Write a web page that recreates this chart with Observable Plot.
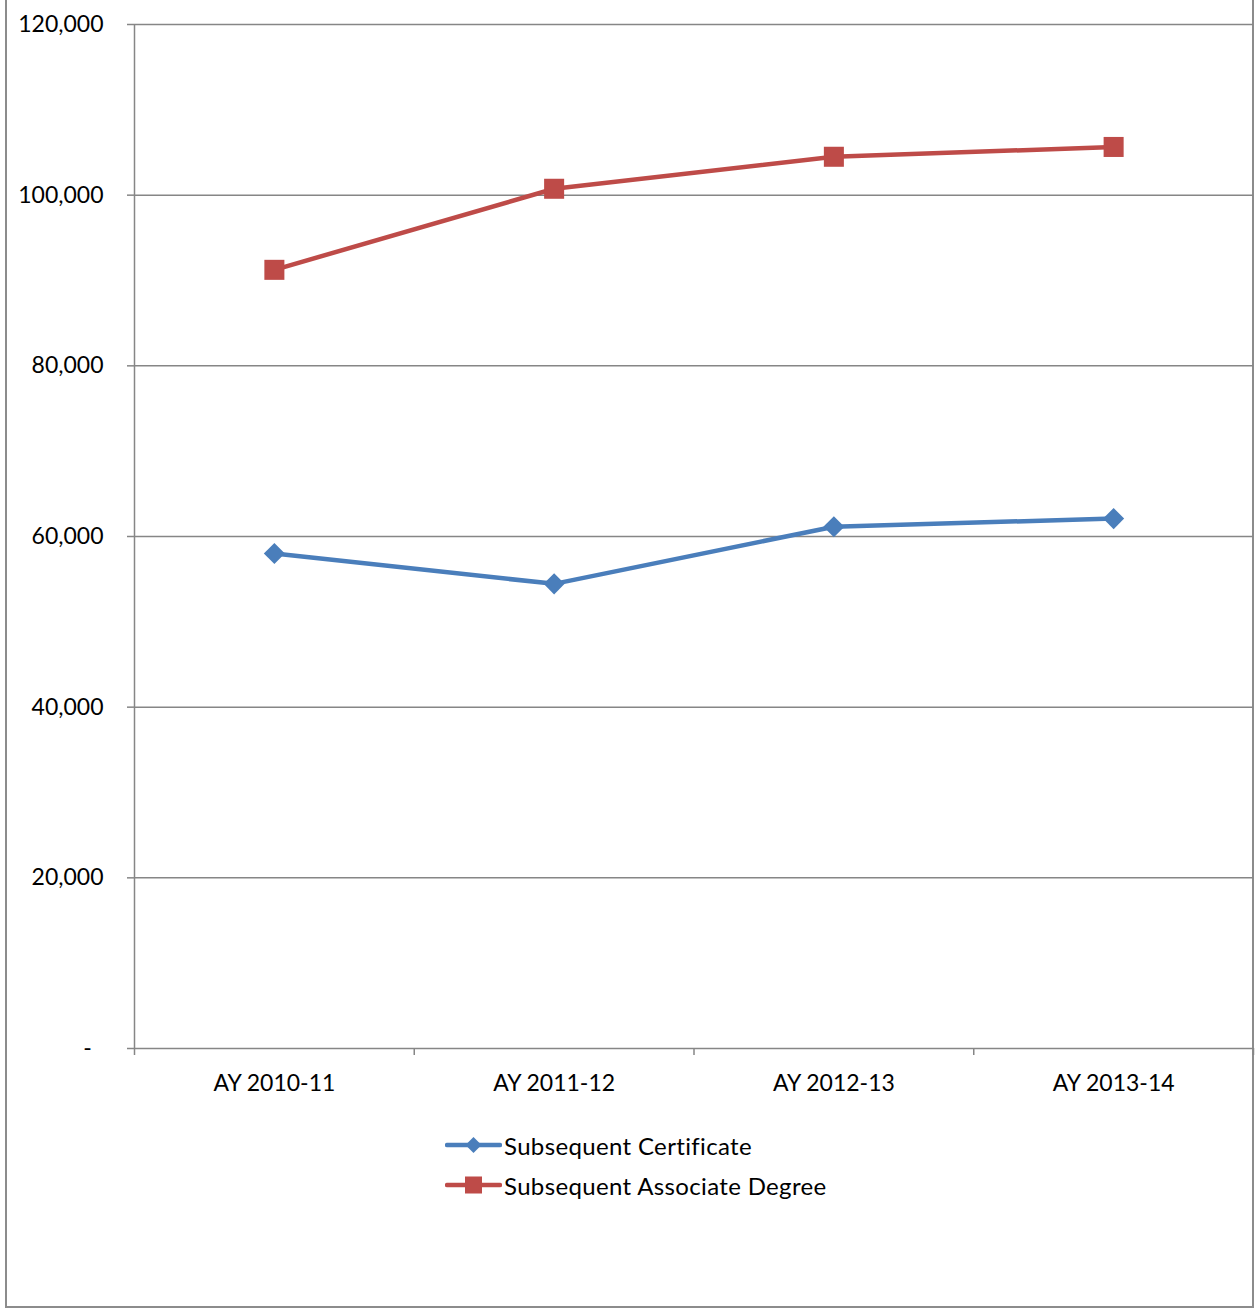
<!DOCTYPE html>
<html><head><meta charset="utf-8">
<script src="https://cdn.jsdelivr.net/npm/d3@7"></script>
<script src="https://cdn.jsdelivr.net/npm/@observablehq/plot@0.6"></script>
<style>
body{margin:0;background:#fff;font-family:Lato,sans-serif;}
#frame{position:absolute;left:5px;top:-3px;width:1249px;height:1311px;box-sizing:border-box;border:2px solid #8c8c8c;}
#chart{position:absolute;left:0;top:0;}
#legend{position:absolute;left:445px;top:1125px;font:24px Lato,sans-serif;letter-spacing:0.35px;color:#000;}
#legend .row{display:flex;align-items:center;height:40px;}
#legend svg{margin-right:2px;}
</style></head><body>
<div id="frame"></div><div id="chart"></div><div id="legend"></div>
<script>
const categories = ["AY 2010-11","AY 2011-12","AY 2012-13","AY 2013-14"];
const certificate = [58000, 54450, 61150, 62100];
const associate = [91250, 100750, 104500, 105650];
const seriesNames = ["Subsequent Certificate","Subsequent Associate Degree"];
const seriesColors = ["#4A7EBB","#BE4B48"];
const seriesSymbols = ["diamond2","square"];
const yTicks = [0,20000,40000,60000,80000,100000,120000];

const rows = [];
categories.forEach((c,i)=>{
  rows.push({x:i+0.5, cat:c, series:seriesNames[0], value:certificate[i]});
  rows.push({x:i+0.5, cat:c, series:seriesNames[1], value:associate[i]});
});
const grid = "#868686";
const fmt = d3.format(",");

const chart = Plot.plot({
  width:1259, height:1110,
  marginLeft:134, marginRight:6, marginTop:24, marginBottom:62,
  style:{fontFamily:"Lato, sans-serif", fontSize:"23px", color:"#000", background:"transparent"},
  x:{domain:[0,categories.length]},
  y:{domain:[0,120000]},
  color:{domain:seriesNames, range:seriesColors},
  marks:[
    Plot.ruleY(yTicks.filter(d=>d>0), {stroke:grid, strokeWidth:1.5}),
    Plot.ruleY([0], {stroke:grid, strokeWidth:1.5}),
    Plot.ruleX([0], {stroke:grid, strokeWidth:1.5}),
    Plot.axisY({ticks:yTicks, tickSize:7, tickPadding:24, stroke:grid, strokeWidth:1.5, fill:"#000", label:null,
      tickFormat:d=> d===0 ? "-\u00a0\u00a0" : fmt(d)}),
    Plot.axisX({ticks:d3.range(categories.length+1), tickSize:7, stroke:grid, strokeWidth:1.5, tickFormat:()=>"", label:null}),
    Plot.axisX({ticks:categories.map((c,i)=>i+0.5), tickSize:0, tickPadding:26, fill:"#000", label:null,
      tickFormat:d=>categories[Math.floor(d)]}),
    Plot.line(rows, {x:"x", y:"value", z:"series", stroke:"series", strokeWidth:4.5}),
    Plot.dot(rows.filter(r=>r.series===seriesNames[0]), {x:"x", y:"value", symbol:seriesSymbols[0], r:9.5, fill:seriesColors[0], stroke:null}),
    Plot.dot(rows.filter(r=>r.series===seriesNames[1]), {x:"x", y:"value", symbol:seriesSymbols[1], r:11.3, fill:seriesColors[1], stroke:null})
  ]
});
document.getElementById("chart").appendChild(chart);

const legend = document.getElementById("legend");
seriesNames.forEach((name,i)=>{
  const row = document.createElement("div");
  row.className = "row";
  const marker = seriesSymbols[i]==="diamond2"
    ? `<path d="M28.5,2 L36.5,10 L28.5,18 L20.5,10 Z" fill="${seriesColors[i]}"/>`
    : `<rect x="20" y="1.5" width="17" height="17" fill="${seriesColors[i]}"/>`;
  row.innerHTML = `<svg width="57" height="20" viewBox="0 0 57 20"><line x1="2" y1="10" x2="55" y2="10" stroke="${seriesColors[i]}" stroke-width="4.5" stroke-linecap="round"/>${marker}</svg><span>${name}</span>`;
  legend.appendChild(row);
});
</script>
</body></html>
